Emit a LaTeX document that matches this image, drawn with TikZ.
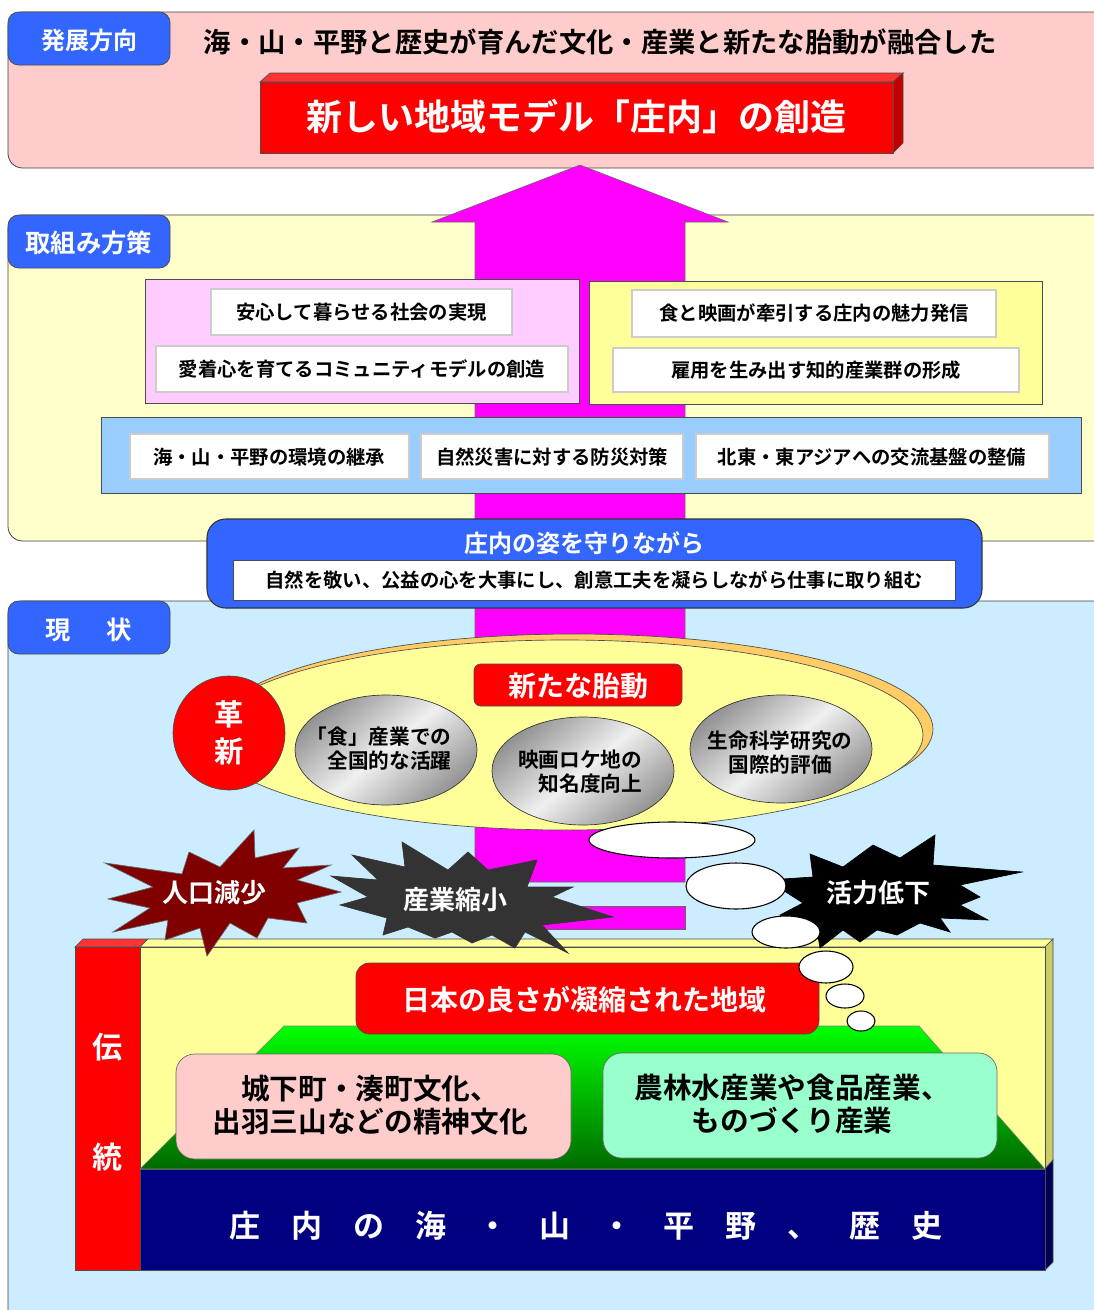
\documentclass[tikz,border=0pt]{standalone}
\usepackage{fontspec}
\setmainfont{Noto Sans CJK JP}[BoldFont={* Bold}]
\definecolor{secpink}{HTML}{FFCCCC}
\definecolor{secyel}{HTML}{FFFFCC}
\definecolor{secblue}{HTML}{CCECFF}
\definecolor{labblue}{HTML}{3366FF}
\definecolor{magen}{HTML}{FF00FF}
\definecolor{pinkbox}{HTML}{FFCCFF}
\definecolor{yelbox}{HTML}{FFFF99}
\definecolor{bluebox}{HTML}{99CCFF}
\definecolor{orangeell}{HTML}{FFCC66}
\definecolor{redtop}{HTML}{FF3333}
\definecolor{reddark}{HTML}{C00000}
\definecolor{navyb}{HTML}{000080}
\definecolor{navyside}{HTML}{000050}
\definecolor{mintb}{HTML}{99FFCC}
\definecolor{starred}{HTML}{800000}
\definecolor{stargray}{HTML}{333333}
\definecolor{yelside}{HTML}{CCCC66}
\definecolor{greentop}{HTML}{00FF00}
\definecolor{greenbot}{HTML}{006A00}
\begin{document}
\begin{tikzpicture}[x=0.75pt,y=-0.75pt,
  every node/.style={inner sep=0pt},
  fz/.style={font=\bfseries\fontsize{#1}{#1}\selectfont},
  sect/.style={draw=black!75, line width=0.6pt, rounded corners=11pt},
  lab/.style={fill=labblue, draw=black!70, rounded corners=8pt, line width=0.6pt},
  wbox/.style={fill=white, draw=black, double=gray!40, double distance=1.2pt, line width=0.5pt},
  wt/.style={text=white},
  metal/.style={shade, top color=gray!85, bottom color=gray!85, middle color=gray!12, shading angle=40, draw=gray!40!black, line width=0.5pt},
  bubble/.style={fill=white, draw=black, line width=0.8pt},
  thin/.style={draw=black!70, line width=0.5pt}]
\clip (0,0) rectangle (1094,1310);
\fill[white] (0,0) rectangle (1094,1310);

% sections
\path[sect, fill=secpink] (8,12) rectangle (1120,168);
\path[sect, fill=secyel] (8,215) rectangle (1120,541);
\path[sect, fill=secblue] (8,601) rectangle (1120,1340);

% section 1
\path[lab] (8,12) rectangle (170,65);
\node[wt, fz=18] (lab1) at (89,40) {発展方向};
\node[fz=20.5] (head) at (600,42) {海・山・平野と歴史が育んだ文化・産業と新たな胎動が融合した};

% magenta arrow
\path[fill=magen, draw=black!60, line width=0.4pt] (475,882) -- (475,222) -- (432,222) -- (580,165) -- (728,222) -- (685,222) -- (685,882) -- cycle;
\path[fill=magen, draw=black!60, line width=0.4pt] (475,906) rectangle (685,929);

% red 3D title box
\path[fill=redtop, thin] (260,82) -- (270,73) -- (903,73) -- (893,82) -- cycle;
\path[fill=reddark, thin] (893,82) -- (903,73) -- (903,143) -- (893,153) -- cycle;
\path[fill=red, thin] (260,82) rectangle (893,153);
\node[wt, fz=27] (title) at (576,117) {新しい地域モデル「庄内」の創造};

% section 2
\path[lab] (8,215) rectangle (170,268);
\node[wt, fz=19] (lab2) at (89,243) {取組み方策};

\path[fill=pinkbox, thin] (145,279) rectangle (579,403);
\path[wbox] (211,289) rectangle (512,335);
\node[fz=14.5] (t1) at (361.5,312) {安心して暮らせる社会の実現};
\path[wbox] (156,346) rectangle (568,392);
\node[fz=14.5] (t2) at (362,369) {愛着心を育てるコミュニティモデルの創造};

\path[fill=yelbox, thin] (589,281) rectangle (1042,404);
\path[wbox] (632,290) rectangle (996,337);
\node[fz=14.5] (t3) at (814,313) {食と映画が牽引する庄内の魅力発信};
\path[wbox] (613,348) rectangle (1019,392);
\node[fz=14.5] (t4) at (816,370) {雇用を生み出す知的産業群の形成};

\path[fill=bluebox, thin] (101,417) rectangle (1081,493);
\path[wbox] (130,434) rectangle (409,479);
\node[fz=14.5] (t5) at (269,457) {海・山・平野の環境の継承};
\path[wbox] (421,434) rectangle (683,479);
\node[fz=14.5] (t6) at (552,457) {自然災害に対する防災対策};
\path[wbox] (696,434) rectangle (1049,479);
\node[fz=14.5] (t7) at (872,457) {北東・東アジアへの交流基盤の整備};

% section 3 label
\path[lab] (8,601) rectangle (170,654);
\node[wt, fz=19] (lab3) at (89,630) {現\hspace{27pt}状};

% banner
\path[fill=labblue, draw=black!80, rounded corners=14pt, line width=0.8pt] (207,519) rectangle (982,608);
\node[wt, fz=18] (ban1) at (584,543) {庄内の姿を守りながら};
\path[fill=white, thin] (233,560) rectangle (955,600);
\node[fz=14.5] (ban2) at (594,580) {自然を敬い、公益の心を大事にし、創意工夫を凝らしながら仕事に取り組む};

% big ellipse group
\path[fill=orangeell, thin] (574,729) ellipse [x radius=359, y radius=95];
\path[fill=yelbox, thin] (565,735) ellipse [x radius=358, y radius=95];
\path[fill=red, thin] (229,733) ellipse [x radius=56, y radius=57];
\node[wt, fz=22, align=center] (kakushin) at (229,733) {革\\[6pt]新};
\path[fill=red, thin, rounded corners=5pt] (474,664) rectangle (682,706);
\node[wt, fz=21] (taido) at (578,686) {新たな胎動};

\path[metal] (386,750) ellipse [x radius=91, y radius=55];
\node[fz=15.5, align=right] (m1) at (379,749) {「食」産業での\\[2.5pt]全国的な活躍};
\path[metal] (583,771) ellipse [x radius=91, y radius=54];
\node[fz=15.5, align=right] (m2) at (580,772) {映画ロケ地の\\[2.5pt]知名度向上};
\path[metal] (781,749) ellipse [x radius=91, y radius=54];
\node[fz=15.5, align=center] (m3) at (780,753) {生命科学研究の\\[2.5pt]国際的評価};

% 3D base block
\path[fill=redtop, thin] (75,947) -- (83,939) -- (148,939) -- (140,947) -- cycle;
\path[fill=red, thin] (75,947) rectangle (140,1270);
\node[wt, fz=22.5] (den) at (107,1047) {伝};
\node[wt, fz=22.5] (tou) at (107,1157) {統};

\path[fill=yelbox, thin] (140,947) -- (148,939) -- (1053,939) -- (1045,947) -- cycle;
\path[fill=yelside, thin] (1045,947) -- (1053,939) -- (1053,1160) -- (1045,1169) -- cycle;
\path[fill=yelbox, thin] (140,947) rectangle (1045,1169);
\path[fill=navyside, thin] (1045,1169) -- (1053,1160) -- (1053,1262) -- (1045,1270) -- cycle;
\path[fill=navyb, thin] (140,1169) rectangle (1045,1270);
\node[wt, fz=23.25] (base) at (586,1226) {庄　内　の　海　・　山　・　平　野　、　歴　史};

\path[top color=greentop, bottom color=greenbot, draw=black!50, line width=0.4pt] (140,1169) -- (284,1026) -- (919,1026) -- (1045,1169) -- cycle;

\path[fill=red, thin, rounded corners=10pt] (356,963) rectangle (819,1034);
\node[wt, fz=21] (nihon) at (584,1000) {日本の良さが凝縮された地域};

\path[fill=secpink, draw=black!60, line width=0.5pt, rounded corners=14pt] (176,1054) rectangle (571,1159);
\node[fz=21.5, align=center] (pk) at (370,1105) {城下町・湊町文化、\\[3pt]出羽三山などの精神文化};
\path[fill=mintb, draw=black!60, line width=0.5pt, rounded corners=14pt] (603,1053) rectangle (997,1158);
\node[fz=21.5, align=center] (mt) at (792,1104) {農林水産業や食品産業、\\[3pt]ものづくり産業};

% stars
\path[fill=starred, draw=black!60, line width=0.5pt] (254,830) -- (255,858) -- (299,848) -- (283,868) -- (331,865) -- (297,880) -- (341,892) -- (297,903) -- (307,923) -- (268,918) -- (257,938) -- (230,923) -- (207,956) -- (200,928) -- (165,940) -- (168,920) -- (113,932) -- (150,908) -- (108,899) -- (153,887) -- (105,863) -- (182,874) -- (189,852) -- (220,867) -- cycle;
\node[wt, fz=19.5] (s1) at (214,893) {人口減少};

\path[fill=stargray, draw=black!80, line width=0.5pt] (402,842) -- (448,870) -- (468,852) -- (488,870) -- (537,860) -- (527,887) -- (573,887) -- (552,897) -- (613,917) -- (542,925) -- (568,953) -- (525,932) -- (515,948) -- (492,935) -- (472,943) -- (452,932) -- (435,938) -- (408,927) -- (383,935) -- (387,918) -- (340,905) -- (368,897) -- (331,876) -- (378,880) -- (352,855) -- (405,867) -- cycle;
\node[wt, fz=19.5] (s2) at (455,900) {産業縮小};

\path[fill=black, draw=black, line width=0.5pt] (935,835) -- (933,865) -- (1022,872) -- (960,885) -- (980,897) -- (960,905) -- (988,920) -- (940,918) -- (950,932) -- (920,923) -- (897,935) -- (877,930) -- (860,942) -- (843,930) -- (820,948) -- (817,930) -- (780,915) -- (803,903) -- (767,880) -- (813,877) -- (810,854) -- (843,867) -- (873,845) -- (900,858) -- cycle;
\node[wt, fz=19.5] (s3) at (878,893) {活力低下};

% thought bubbles
\path[bubble] (672,840) ellipse [x radius=83, y radius=18];
\path[bubble] (736,886) ellipse [x radius=50, y radius=23];
\path[bubble] (786,932) ellipse [x radius=34, y radius=16];
\path[bubble] (826,967) ellipse [x radius=27, y radius=16];
\path[bubble] (845,996) ellipse [x radius=19, y radius=12];
\path[bubble] (861,1021) ellipse [x radius=14, y radius=10];
\end{tikzpicture}
\end{document}
